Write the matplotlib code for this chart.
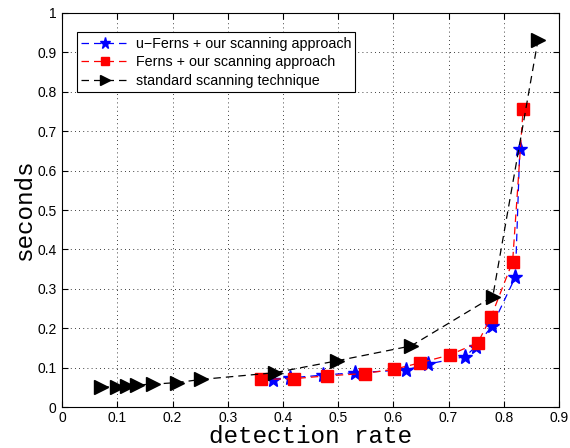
import matplotlib
matplotlib.use("Agg")
import matplotlib.pyplot as plt

# u-Ferns + our scanning approach
ufern_x = [0.382, 0.413, 0.473, 0.530, 0.623, 0.663, 0.730, 0.749, 0.779, 0.821, 0.829]
ufern_y = [0.068, 0.074, 0.081, 0.087, 0.094, 0.109, 0.128, 0.153, 0.206, 0.330, 0.655]

# Ferns + our scanning approach
fern_x = [0.360, 0.420, 0.479, 0.548, 0.602, 0.648, 0.702, 0.753, 0.777, 0.816, 0.835]
fern_y = [0.070, 0.072, 0.079, 0.085, 0.096, 0.112, 0.132, 0.163, 0.229, 0.369, 0.756]

# standard scanning technique
std_x = [0.071, 0.100, 0.117, 0.135, 0.165, 0.208, 0.252, 0.385, 0.497, 0.632, 0.780, 0.862]
std_y = [0.051, 0.051, 0.053, 0.056, 0.058, 0.062, 0.070, 0.087, 0.117, 0.155, 0.280, 0.932]

labels = ["u\u2212Ferns + our scanning approach",
          "Ferns + our scanning approach",
          "standard scanning technique"]

plt.rcParams["font.family"] = ["Liberation Sans", "DejaVu Sans"]

fig = plt.figure(figsize=(5.7, 4.48), dpi=100)
ax = fig.add_axes([0.109, 0.0915, 0.8717, 0.8795])

ax.plot(ufern_x, ufern_y, color="blue", linestyle=(0, (6, 4)), linewidth=0.9,
        marker="*", markersize=11, label=labels[0])
ax.plot(fern_x, fern_y, color="red", linestyle=(0, (6, 4)), linewidth=0.9,
        marker="s", markersize=8, label=labels[1])
ax.plot(std_x, std_y, color="black", linestyle=(0, (6, 4)), linewidth=0.9,
        marker=">", markersize=10, label=labels[2])

ax.set_xlim(0, 0.9)
ax.set_ylim(0, 1)
ax.set_xticks([i / 10 for i in range(10)])
ax.set_yticks([i / 10 for i in range(11)])
ax.set_xticklabels(["0", "0.1", "0.2", "0.3", "0.4", "0.5", "0.6", "0.7", "0.8", "0.9"])
ax.set_yticklabels(["0", "0.1", "0.2", "0.3", "0.4", "0.5", "0.6", "0.7", "0.8", "0.9", "1"])
ax.tick_params(direction="in", top=True, right=True, labelsize=10, length=4, pad=4)
ax.tick_params(axis="x", pad=3)
ax.grid(True, color="black", linestyle=(0, (1, 4)), linewidth=0.6)
for s in ax.spines.values():
    s.set_linewidth(0.8)

ax.set_xlabel("detection rate", family="Liberation Mono", fontsize=17.5, va="baseline")
ax.xaxis.set_label_coords(0.5, -0.092)
ax.set_ylabel("seconds", family="Liberation Mono", fontsize=17.5, labelpad=1)

leg = ax.legend(loc="upper left", bbox_to_anchor=(0.03, 0.951), fontsize=10.3,
                fancybox=False, edgecolor="black", framealpha=1,
                handlelength=3.3, borderpad=0.3, labelspacing=0.32,
                borderaxespad=0.0, markerscale=0.75, handletextpad=0.5)
leg.get_frame().set_linewidth(0.8)

fig.savefig("out.png", dpi=100)
